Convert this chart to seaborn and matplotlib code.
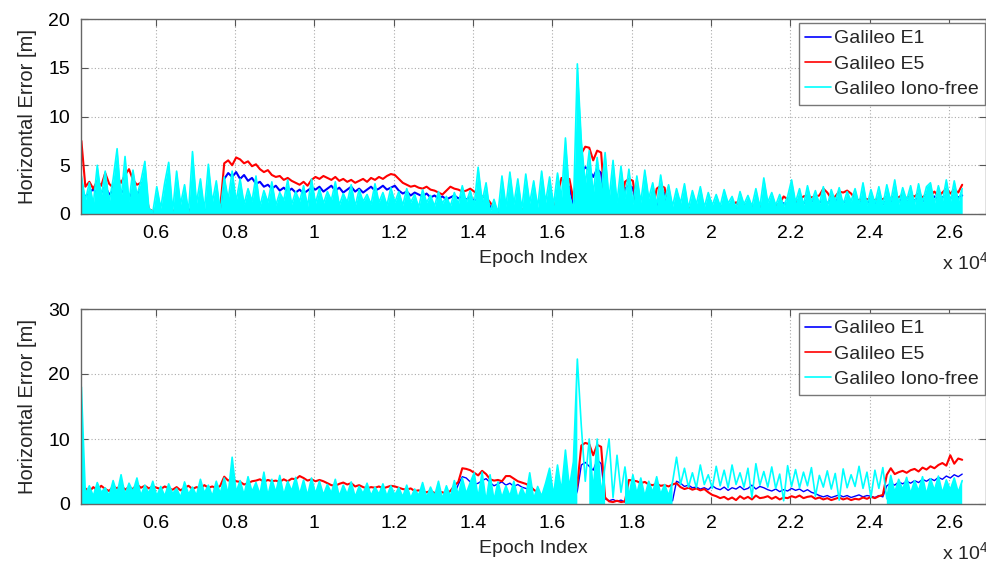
import numpy as np
import pandas as pd
import seaborn as sns
import matplotlib.pyplot as plt

# epochs sampled every 100 (data runs ~4130 .. 26330)
epoch = np.arange(4130, 26331, 100)
signals = ['Galileo E1', 'Galileo E5', 'Galileo Iono-free']
colors = ['#0000ff', '#ff0000', '#00ffff']
xticks = [6000, 8000, 10000, 12000, 14000, 16000, 18000, 20000, 22000, 24000, 26000]
xtick_labels = ['0.6', '0.8', '1', '1.2', '1.4', '1.6', '1.8', '2', '2.2', '2.4', '2.6']
top_yticks = [0, 5, 10, 15, 20]
bot_yticks = [0, 10, 20, 30]

# ---- upper panel, horizontal error [m] ----
top_e1 = [
    2.3, 1.8, 2.1, 2.6, 1.9, 2.2, 2.8, 2.0, 2.4, 3.0, 2.2, 2.5, 1.7, 2.3, 2.0, 2.6, 1.5, 0.3, 0.2, 0.4,
    0.2, 0.1, 0.3, 0.2, 0.4, 0.1, 0.2, 0.5, 0.2, 0.3, 0.1, 0.2, 0.4, 0.2, 0.3, 0.5, 3.6, 4.2, 3.8, 4.3,
    3.6, 4.0, 3.4, 3.7, 3.1, 3.3, 2.8, 3.0, 2.6, 2.9, 2.4, 2.7, 2.3, 2.6, 2.2, 2.5, 2.1, 2.4, 2.7, 2.5,
    2.8, 2.3, 2.6, 2.9, 2.4, 2.7, 2.2, 2.5, 2.8, 2.3, 2.6, 2.2, 2.5, 2.8, 2.4, 2.6, 2.9, 2.5, 2.7, 2.9,
    2.4, 2.1, 2.3, 1.9, 2.2, 2.0, 1.8, 2.1, 1.7, 1.9, 1.6, 1.8, 1.5, 1.7, 1.9, 1.6, 1.8, 1.5, 1.7, 1.4,
    1.5, 1.3, 1.2, 0.8, 0.3, 0.2, 0.1, 0.3, 0.2, 0.4, 0.1, 0.3, 0.2, 0.5, 0.2, 0.3, 0.1, 0.4, 0.2, 0.3,
    0.3, 0.4, 2.5, 2.8, 1.0, 3.5, 4.2, 4.8, 4.5, 3.8, 4.6, 4.2, 0.5, 0.3, 0.2, 0.4, 0.3, 2.6, 2.9, 2.7,
    0.5, 0.3, 0.4, 0.2, 0.3, 0.5, 2.0, 2.2, 0.4, 0.3, 0.2, 0.5, 0.3, 0.6, 0.2, 0.4, 0.3, 0.5, 0.2, 0.4,
    0.6, 0.8, 0.4, 0.9, 0.5, 0.7, 0.3, 0.8, 0.6, 0.9, 0.5, 0.7, 0.4, 0.6, 0.8, 0.5, 0.9, 1.1, 0.8, 1.0,
    1.2, 1.4, 1.1, 1.5, 1.3, 1.6, 1.2, 1.4, 1.1, 1.5, 1.3, 1.7, 1.2, 1.4, 1.0, 1.3, 1.1, 1.4, 1.2, 1.3,
    1.1, 1.3, 1.0, 1.4, 1.2, 1.5, 1.3, 1.6, 1.2, 1.5, 1.4, 1.7, 1.3, 1.6, 1.5, 1.8, 1.4, 1.7, 1.9, 1.6,
    2.0, 1.7, 1.9,
]
top_e5 = [
    7.5, 2.8, 3.3, 2.6, 3.4, 2.9, 4.2, 3.1, 2.7, 3.8, 3.2, 4.0, 4.6, 3.5, 3.0, 3.2, 2.9, 0.5, 0.3, 0.4,
    0.2, 0.4, 0.1, 0.3, 0.5, 0.2, 0.6, 0.3, 0.2, 0.4, 0.7, 0.3, 0.5, 0.2, 0.4, 0.6, 5.2, 5.5, 5.0, 5.8,
    5.6, 5.2, 5.4, 4.9, 5.1, 4.6, 4.3, 4.5, 4.0, 3.8, 3.9, 3.5, 3.7, 3.4, 3.2, 3.0, 3.3, 2.9, 3.5, 3.8,
    3.6, 3.9, 3.7, 3.5, 3.8, 3.4, 3.6, 3.3, 3.5, 3.2, 3.4, 3.6, 3.3, 3.7, 3.5, 3.8, 3.6, 3.9, 4.1, 4.0,
    3.6, 3.2, 3.0, 2.8, 2.9, 2.7, 2.6, 2.8, 2.5, 2.4, 2.2, 2.0, 2.4, 2.8, 2.6, 2.5, 2.3, 2.4, 2.6, 2.3,
    2.0, 1.8, 1.7, 1.2, 0.6, 0.4, 0.2, 0.3, 0.1, 0.4, 0.2, 0.5, 0.3, 0.2, 0.4, 0.3, 0.5, 0.2, 0.6, 0.3,
    2.0, 3.7, 3.0, 3.6, 1.5, 4.0, 6.2, 6.9, 6.8, 5.5, 6.5, 6.3, 0.6, 0.4, 0.3, 0.5, 0.4, 3.3, 3.6, 3.4,
    0.6, 0.4, 0.5, 0.3, 0.4, 2.6, 2.9, 2.7, 0.5, 0.3, 0.6, 0.4, 0.2, 0.7, 0.4, 0.3, 0.5, 0.2, 0.6, 0.4,
    0.8, 0.6, 1.0, 0.7, 0.9, 1.2, 0.8, 1.1, 0.6, 0.9, 0.7, 1.0, 0.5, 0.8, 1.2, 0.9, 1.1, 1.8, 1.5, 1.9,
    1.3, 1.5, 1.8, 1.9, 1.7, 1.8, 1.9, 2.6, 2.2, 1.6, 1.8, 2.3, 2.2, 2.4, 2.1, 1.6, 1.4, 1.7, 1.5, 1.6,
    1.4, 1.7, 1.5, 1.8, 1.6, 1.9, 1.7, 2.0, 1.6, 1.9, 1.8, 2.1, 1.7, 2.0, 1.9, 2.3, 1.8, 2.2, 2.6, 2.1,
    2.5, 2.2, 3.0,
]
top_if = [
    3.9, 1.4, 3.2, 1.0, 5.0, 1.8, 4.4, 1.2, 3.6, 6.7, 1.5, 5.9, 1.3, 4.5, 1.9, 3.4, 5.4, 0.6, 0.2, 2.8,
    0.6, 3.2, 5.3, 0.3, 4.4, 1.0, 3.0, 0.2, 6.4, 1.1, 3.6, 0.4, 5.1, 1.2, 3.4, 0.3, 3.8, 1.5, 4.4, 1.3,
    3.6, 1.0, 2.6, 1.3, 3.9, 0.8, 2.4, 1.2, 3.3, 0.9, 2.2, 1.4, 3.5, 1.0, 2.3, 1.3, 2.9, 0.8, 3.6, 1.1,
    2.6, 1.1, 2.3, 1.4, 3.3, 0.9, 2.1, 1.2, 3.0, 0.8, 2.5, 1.3, 2.0, 1.0, 3.1, 1.2, 2.2, 0.9, 2.7, 1.2,
    2.3, 0.9, 2.6, 1.2, 2.0, 0.7, 2.5, 1.2, 1.9, 0.8, 2.3, 1.1, 1.8, 0.8, 2.2, 1.0, 2.9, 1.2, 2.4, 0.9,
    4.8, 1.3, 3.2, 0.2, 1.5, 0.1, 3.9, 0.8, 4.3, 1.0, 3.6, 0.5, 4.1, 1.1, 3.4, 0.7, 4.4, 1.2, 3.8, 0.9,
    4.2, 1.6, 7.8, 2.0, 0.3, 15.4, 7.5, 3.0, 6.5, 2.0, 5.8, 2.3, 6.3, 1.5, 5.5, 1.2, 4.9, 1.6, 4.6, 1.0,
    3.9, 1.2, 4.5, 1.6, 3.2, 0.9, 4.0, 1.4, 3.0, 0.8, 2.6, 1.1, 3.1, 0.6, 2.4, 1.0, 2.8, 0.7, 2.2, 0.9,
    2.0, 0.8, 2.5, 1.1, 1.8, 0.6, 2.3, 1.0, 1.9, 0.8, 2.6, 0.7, 3.7, 1.2, 2.2, 0.9, 2.0, 0.8, 1.8, 3.5,
    1.2, 2.6, 0.9, 2.9, 1.2, 2.4, 1.0, 2.8, 0.8, 2.5, 1.3, 2.7, 1.0, 2.3, 1.3, 2.6, 1.0, 3.2, 0.9, 2.5,
    1.1, 2.8, 0.9, 3.0, 1.3, 3.5, 1.0, 2.7, 1.4, 2.9, 1.0, 3.1, 1.2, 2.8, 3.2, 1.1, 2.9, 1.3, 3.5, 1.2,
    3.4, 1.3, 2.6,
]
# lower edge of the solid iono-free band (nan = no solid band there)
top_if_floor = [0.0] * 223

# ---- lower panel, horizontal error [m] ----
bot_e1 = [
    0.4, 0.2, 0.6, 0.3, 0.8, 0.2, 0.5, 0.9, 0.3, 0.6, 0.2, 0.7, 0.4, 0.3, 0.8, 0.5, 1.0, 0.3, 0.6, 0.4,
    0.3, 0.5, 0.2, 0.7, 0.4, 0.3, 0.6, 0.2, 0.5, 0.8, 0.3, 0.4, 0.6, 0.2, 0.5, 0.9, 0.7, 0.4, 0.8, 0.5,
    0.6, 0.3, 0.9, 0.5, 0.4, 1.0, 0.6, 0.3, 0.8, 0.5, 0.7, 1.2, 0.4, 0.6, 0.9, 0.5, 0.7, 0.4, 1.1, 0.6,
    0.5, 0.8, 0.4, 0.7, 0.3, 0.6, 0.9, 0.4, 0.5, 0.3, 0.7, 0.4, 0.6, 0.3, 0.5, 0.8, 0.4, 0.6, 0.3, 0.5,
    0.4, 0.6, 0.3, 0.5, 0.2, 0.4, 0.7, 0.3, 0.5, 0.4, 0.6, 0.9, 0.5, 0.8, 1.5, 3.0, 4.2, 4.0, 3.4, 3.0,
    3.2, 3.6, 3.9, 3.3, 2.8, 3.1, 3.4, 2.9, 3.2, 2.7, 3.0, 2.6, 2.4, 2.2, 0.6, 0.3, 0.5, 0.2, 0.4, 0.3,
    0.5, 0.2, 0.6, 0.4, 0.3, 2.0, 6.0, 6.4, 5.8, 5.2, 6.8, 6.2, 0.8, 0.5, 0.7, 0.4, 0.6, 0.3, 0.5, 0.4,
    0.6, 0.3, 0.5, 0.4, 0.7, 0.3, 0.5, 0.6, 0.4, 0.5, 3.5, 3.2, 2.7, 2.9, 2.5, 2.6, 2.3, 2.5, 2.2, 2.8,
    2.4, 2.2, 2.6, 2.1, 2.5, 2.3, 2.7, 2.2, 2.4, 2.9, 2.3, 2.7, 2.5, 2.2, 2.0, 2.3, 1.9, 2.2, 2.0, 2.4,
    2.1, 2.3, 1.9, 2.2, 1.8, 1.6, 1.3, 1.1, 1.3, 1.0, 1.2, 1.4, 1.1, 1.3, 1.0, 1.2, 1.4, 1.1, 1.3, 1.2,
    1.0, 1.3, 1.1, 2.8, 3.2, 2.9, 3.4, 3.1, 3.5, 3.2, 3.6, 3.3, 3.8, 3.5, 3.9, 3.6, 4.1, 3.8, 4.3, 4.0,
    4.5, 4.2, 4.6,
]
bot_e5 = [
    1.8, 2.4, 1.9, 2.6, 2.1, 2.8, 2.3, 2.0, 2.7, 2.4, 2.9, 2.2, 2.6, 2.3, 3.0, 2.5, 2.8, 2.4, 2.7, 2.5,
    2.3, 2.7, 2.4, 2.2, 2.6, 2.1, 2.5, 2.8, 2.3, 2.6, 2.4, 2.9, 2.5, 2.7, 2.4, 2.8, 4.2, 3.6, 3.9, 3.5,
    3.4, 3.0, 3.2, 3.5, 3.6, 3.8, 3.4, 3.7, 3.5, 3.6, 3.4, 3.8, 3.5, 3.9, 3.8, 4.3, 4.0, 3.6, 3.8, 3.5,
    3.7, 3.5, 3.2, 2.9, 2.8, 3.1, 3.3, 3.0, 3.2, 2.7, 2.9, 2.6, 2.4, 2.6, 2.5, 2.7, 2.4, 2.6, 2.8, 2.7,
    2.5, 2.3, 2.2, 2.4, 2.0, 2.1, 1.9, 1.8, 2.0, 1.7, 1.9, 1.8, 1.6, 2.0, 2.8, 3.4, 5.5, 5.4, 5.2, 4.8,
    4.4, 5.1, 4.6, 3.8, 3.6, 3.7, 3.5, 4.3, 4.3, 3.9, 3.5, 3.3, 3.1, 2.8, 2.2, 1.8, 0.5, 0.3, 0.6, 0.4,
    0.3, 0.5, 0.4, 0.2, 0.6, 3.0, 9.0, 9.4, 9.2, 7.5, 9.1, 8.8, 1.0, 0.4, 0.3, 0.5, 0.3, 0.4, 3.7, 3.6,
    3.5, 3.2, 3.4, 3.0, 2.9, 3.1, 2.8, 2.9, 2.7, 3.0, 3.2, 2.6, 2.3, 2.5, 2.2, 2.4, 2.1, 2.3, 1.8, 1.4,
    1.2, 0.9, 1.1, 0.7, 1.0, 0.6, 1.2, 0.8, 1.1, 0.7, 1.3, 0.9, 1.0, 1.2, 0.8, 1.1, 0.7, 1.0, 0.9, 1.2,
    1.0, 1.3, 0.9, 1.1, 1.2, 0.8, 1.0, 0.7, 0.9, 0.6, 0.8, 1.0, 0.7, 0.9, 0.6, 0.8, 0.7, 1.0, 0.8, 1.1,
    0.9, 1.2, 1.4, 4.5, 5.5, 4.6, 4.9, 5.1, 4.8, 5.2, 5.4, 5.0, 5.6, 5.3, 5.8, 5.5, 6.0, 6.3, 5.9, 7.5,
    6.2, 7.0, 6.8,
]
bot_if = [
    18.0, 1.5, 2.8, 1.2, 3.3, 1.8, 2.5, 1.3, 3.6, 1.6, 4.5, 1.4, 3.2, 1.9, 4.0, 1.3, 2.9, 1.6, 3.5, 1.2,
    2.7, 1.2, 3.1, 1.6, 2.4, 1.0, 3.4, 1.5, 2.6, 1.3, 3.8, 1.7, 2.9, 1.2, 3.5, 1.6, 4.0, 1.5, 7.2, 1.8,
    3.6, 1.4, 4.2, 1.9, 3.3, 1.5, 4.9, 1.3, 3.8, 1.8, 4.4, 1.4, 3.5, 2.0, 4.1, 1.5, 3.7, 1.3, 4.0, 1.6,
    3.5, 1.4, 3.0, 1.7, 3.8, 1.2, 2.9, 1.5, 3.4, 1.1, 2.7, 1.6, 3.2, 1.3, 2.6, 1.5, 3.1, 1.2, 2.8, 1.4,
    2.5, 1.1, 2.9, 0.9, 2.3, 1.3, 3.3, 1.0, 2.6, 1.2, 3.5, 0.8, 2.8, 1.1, 3.6, 1.4, 4.0, 1.6, 3.3, 4.8,
    1.0, 4.9, 0.4, 4.5, 0.6, 3.4, 1.0, 2.8, 1.2, 3.5, 0.9, 2.5, 1.1, 4.8, 0.8, 2.7, 1.2, 3.2, 5.5, 1.4,
    6.0, 2.0, 8.3, 2.5, 6.5, 22.3, 12.0, 3.5, 10.0, 2.0, 10.0, 1.5, 6.0, 10.0, 1.0, 7.5, 1.8, 5.7, 1.2, 4.5,
    1.6, 4.0, 1.2, 3.5, 1.8, 4.2, 1.5, 3.0, 1.3, 3.4, 7.2, 3.0, 5.5, 2.6, 4.8, 2.5, 6.0, 3.0, 4.5, 2.4,
    5.8, 2.8, 5.2, 2.5, 6.0, 3.0, 4.8, 2.6, 5.5, 1.0, 6.2, 2.9, 5.0, 2.6, 5.7, 2.4, 4.6, 0.5, 5.9, 2.7,
    5.3, 2.5, 4.9, 2.8, 5.6, 1.2, 4.4, 2.6, 5.1, 2.3, 4.7, 0.6, 5.4, 2.5, 4.5, 2.7, 5.8, 2.4, 4.9, 1.0,
    5.2, 2.4, 5.6, 0.8, 4.4, 1.8, 3.8, 2.2, 4.1, 1.6, 3.6, 2.0, 4.2, 1.5, 3.9, 2.1, 4.3, 1.7, 3.7, 2.2,
    4.0, 1.8, 3.6,
]
nan = float('nan')
bot_if_floor = (
    [0.0] * 120
    + [0.0, 0.0, 0.0, 0.0, 0.0, 0.0, nan, nan, 0.0, 0.0, 0.0, 0.0, 0.0, nan, nan, nan, nan, 0.0, 0.0, 0.0]
    + [0.0] * 10 + [nan] * 10
    + [nan] * 20
    + [nan] * 20
    + [nan, nan, nan, 0.0, 0.0, 0.0, 0.0, 0.0, 0.0, 0.0, 0.0, 0.0, 0.0, 0.0, 0.0, 0.0, 0.0, 0.0, 0.0, 0.0]
    + [0.0, 0.0, 0.0]
)

sns.set_theme(style='ticks')
plt.rcParams['font.family'] = ['Liberation Sans', 'DejaVu Sans']
plt.rcParams['mathtext.default'] = 'regular'


def draw_panel(ax, e1, e5, iono, floor, ymax, yticks, e1_lw):
    df = pd.DataFrame({
        'epoch': np.tile(epoch, 3),
        'err': np.concatenate([e1, e5, iono]),
        'signal': np.repeat(signals, len(epoch)),
    })
    sns.lineplot(data=df, x='epoch', y='err', hue='signal', hue_order=signals,
                 palette=colors, estimator=None, sort=False, linewidth=1.5, ax=ax)
    ax.lines[0].set_linewidth(e1_lw)
    ax.lines[2].set_linewidth(1.2)
    ax.lines[2].set_zorder(3)
    # the iono-free trace is so dense that it reads as a solid band
    ax.fill_between(epoch, floor, iono, color=colors[2], lw=0, zorder=2.9)

    ax.set_xlim(4120, 26930)
    ax.set_ylim(0, ymax)
    ax.set_xticks(xticks)
    ax.set_xticklabels(xtick_labels)
    ax.set_yticks(yticks)
    ax.tick_params(direction='in', length=5, width=0.8, color='#555555',
                   top=True, right=True, labelsize=14, pad=8, labelcolor='black')
    for sp in ax.spines.values():
        sp.set_color('#666666')
        sp.set_linewidth(1.0)
        sp.set_zorder(5)
    ax.grid(True, linestyle=(0, (1, 2)), color='#aaaaaa', linewidth=0.8)
    ax.set_axisbelow(True)
    ax.set_xlabel('Epoch Index', fontsize=14, labelpad=6)
    ax.set_ylabel('Horizontal Error [m]', fontsize=14.5, labelpad=8)
    ax.text(0.951, -0.245, 'x 10$^{4}$', transform=ax.transAxes, fontsize=14,
            ha='left', va='center')
    leg = ax.legend(loc='upper right', bbox_to_anchor=(0.999, 0.98), fontsize=14,
                    frameon=True, fancybox=False, framealpha=1, edgecolor='#777777',
                    handlelength=1.3, handletextpad=0.15, labelspacing=0.4,
                    borderpad=0.35, borderaxespad=0.0, title=None)
    leg.get_frame().set_linewidth(1.0)
    leg.set_zorder(6)
    for line in leg.get_lines():
        line.set_linewidth(1.2)


fig = plt.figure(figsize=(9.87, 5.62), dpi=100)
ax1 = fig.add_axes([81 / 987, 1 - 214 / 562, 905 / 987, 195 / 562])
ax2 = fig.add_axes([81 / 987, 1 - 504 / 562, 905 / 987, 195 / 562])

draw_panel(ax1, top_e1, top_e5, top_if, top_if_floor, 20, top_yticks, 1.5)
draw_panel(ax2, bot_e1, bot_e5, bot_if, bot_if_floor, 30, bot_yticks, 1.0)

fig.savefig('out.png', dpi=100)
